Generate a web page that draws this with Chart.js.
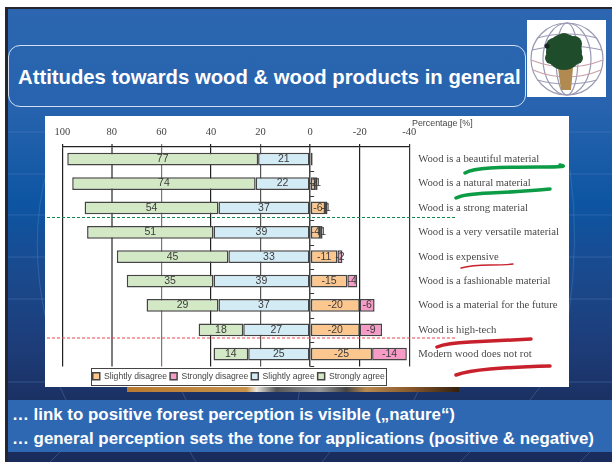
<!DOCTYPE html>
<html>
<head>
<meta charset="utf-8">
<script src="https://cdn.jsdelivr.net/npm/chart.js@4"></script>
<style>
  html, body { margin: 0; padding: 0; background: #fff; }
  #slide { position: absolute; left: 5px; top: 7px; width: 607px; height: 455px; overflow: hidden;
    border-left: 3px solid #23262e; border-top: 2px solid #23262e; box-sizing: border-box;
    background: linear-gradient(180deg, #2c66b1 0%, #2763ae 22%, #0d55a2 43%, #1a4a8e 58%, #1d3c78 75%, #1a2f60 88%, #1a2c5c 100%); }
  #panel { position: absolute; left: 45px; top: 116px; width: 524px; height: 271px; background: #fff; }
  #panel canvas { display: block; }
  #titlebox { position: absolute; left: 8px; top: 45px; width: 518px; height: 62px; box-sizing: border-box;
    border: 1.5px solid #d4e0f2; border-radius: 12px; }
  .txt { position: absolute; font-family: "Liberation Sans", Arial, sans-serif; white-space: nowrap; }
  #title { left: 18px; top: 64px; color: #fff; font-weight: bold; font-size: 20.3px; line-height: 26px; }
  #pct { left: 412px; top: 118px; color: #444; font-size: 8.9px; line-height: 10px; }
  #band { position: absolute; left: 8px; top: 400px; width: 604px; height: 52px; background: #2e68b3; }
  .note { left: 12px; color: #fff; font-weight: bold; font-size: 16.9px; line-height: 20px; }
  #strip { position: absolute; left: 127px; top: 387px; width: 332px; height: 5px;
    background: linear-gradient(90deg, #b87a30 0%, #c8924a 36%, #e8e4dc 39%, #555 45%, #999 58%, #444 66%, #b98a50 72%, #8a5a2c 85%, #33200f 100%); }
  svg.over { position: absolute; left: 0; top: 0; pointer-events: none; }
</style>
</head>
<body>
<div id="slide"></div>
<svg class="over" width="612" height="462" style="left:0;top:0">
  <g stroke="#5f8ccb" stroke-opacity="0.35" fill="none" stroke-width="1">
    <path d="M8 132H612M8 174H612M8 215H612M8 257H612M8 299H612M8 382H612"/>
    <path d="M47 170Q28 240 46 320M570 170Q580 240 568 320"/>
    <path d="M60 387L66 400M180 387L186 400M300 387L298 400M420 387L414 400M540 387L530 400M60 452L50 462M190 452L196 462M330 452L322 462M470 452L460 462M590 452L580 462"/>
  </g>
</svg>
<div id="titlebox"></div>
<div id="title" class="txt">Attitudes towards wood &amp; wood products in general</div>
<svg class="over" width="612" height="462">
  <rect x="527" y="20" width="79" height="77" fill="#fff"/>
  <g fill="none" stroke="#9a9ab4" stroke-width="1.2">
    <circle cx="567" cy="59" r="36"/>
    <ellipse cx="567" cy="59" rx="24" ry="36"/>
    <ellipse cx="567" cy="59" rx="11" ry="36"/>
    <path d="M537 38Q567 30 597 38M532 50Q567 42 602 50M537 80Q567 88 597 80"/>
    <path d="M531 60Q567 74 603 60M533 70Q567 84 601 70" stroke="#c9a0a8"/>
  </g>
  <path d="M558 68H573L571 90H561Z" fill="#b08a50"/>
  <g fill="#1f4d2c">
    <circle cx="564" cy="52" r="18"/>
    <circle cx="554" cy="46" r="8"/>
    <circle cx="574" cy="44" r="8"/>
    <circle cx="564" cy="40" r="7"/>
    <circle cx="577" cy="58" r="6"/>
    <circle cx="551" cy="58" r="6"/>
  </g>
  <circle cx="547" cy="46" r="2.5" fill="#15261c"/>
</svg>
<div id="panel"><canvas id="chart" width="524" height="271"></canvas></div>
<div id="pct" class="txt">Percentage [%]</div>
<div id="strip"></div>
<div id="band"></div>
<div class="txt note" style="top:405px">… link to positive forest perception is visible („nature“)</div>
<div class="txt note" style="top:429px">… general perception sets the tone for applications (positive &amp; negative)</div>
<svg class="over" width="612" height="462">
  <path d="M47 217.5H456" stroke="#0f8a4c" stroke-width="1" stroke-dasharray="3 2" fill="none"/>
  <path d="M47 338H456" stroke="#e8434f" stroke-width="1" stroke-dasharray="3 2" fill="none"/>
  <g fill="none" stroke-linecap="round">
    <path d="M465 173Q472 169 490 168T540 167T560 165" stroke="#0c9c46" stroke-width="3.5"/>
    <path d="M456 198Q464 194 490 193T550 189" stroke="#0c9c46" stroke-width="3.5"/>
    <path d="M461 268Q472 265 490 265T513 264" stroke="#c8202c" stroke-width="1.4"/>
    <path d="M437 347Q447 343 470 342T531 339" stroke="#c8202c" stroke-width="3.5"/>
    <path d="M456 375Q467 371 490 369T550 366" stroke="#c8202c" stroke-width="3.5"/>
  </g>
</svg>
<script>
const statements = [
  "Wood is a beautiful material",
  "Wood is a natural material",
  "Wood is a strong material",
  "Wood is a very versatile material",
  "Wood is expensive",
  "Wood is a fashionable material",
  "Wood is a material for the future",
  "Wood is high-tech",
  "Modern wood does not rot",
];
const slightlyDisagree = [-1, -2, -6, -4, -11, -15, -20, -20, -25];
const stronglyDisagree = [null, -1, -1, -1, -2, -4, -6, -9, -14];
const slightlyAgree = [21, 22, 37, 39, 33, 39, 37, 27, 25];
const stronglyAgree = [77, 74, 54, 51, 45, 35, 29, 18, 14];

const gridStyles = {
  100: ["#222", 1.2], 80: ["#7c7c7c", 2], 60: ["#777", 1.2], 40: ["#222", 1.2],
  20: ["#555", 1.2], 0: ["#444", 1.5], "-20": ["#222", 1.2], "-40": ["#333", 1.2],
};

const makeSet = (label, data, color) => ({
  label, data,
  backgroundColor: color,
  borderColor: "#444",
  borderWidth: 1.5,
  borderSkipped: false,
  barPercentage: 0.52,
  categoryPercentage: 1,
});

// value labels in the middle of each segment
const barLabels = {
  id: "barLabels",
  afterDatasetsDraw(chart) {
    const ctx = chart.ctx;
    ctx.save();
    ctx.font = '10.5px "Liberation Sans", Arial, sans-serif';
    ctx.fillStyle = "#3c3c3c";
    ctx.textAlign = "center";
    ctx.textBaseline = "middle";
    chart.data.datasets.forEach((ds, i) => {
      chart.getDatasetMeta(i).data.forEach((bar, j) => {
        const v = ds.data[j];
        if (v == null) return;
        if (j === 0 && v === -1) return; // too small, no label in the original
        ctx.fillText(String(v), (bar.x + bar.base) / 2, bar.y);
      });
    });
    ctx.restore();
  },
};

// short ticks on the zero line and frame around the legend
const extras = {
  id: "extras",
  afterLayout(chart) {
    chart.legend.left += 3;
    chart.legend.right += 3;
    chart.legend.top += 2.5;
    chart.legend.bottom += 2.5;
  },
  afterDraw(chart) {
    const ctx = chart.ctx;
    const x0 = chart.scales.x.getPixelForValue(0);
    const y = chart.scales.y;
    const step = y.getPixelForValue(1) - y.getPixelForValue(0);
    ctx.save();
    ctx.strokeStyle = "#333";
    ctx.lineWidth = 1;
    for (let i = 0; i < statements.length; i++) {
      const py = Math.round(y.getPixelForValue(i) + step / 2) + 0.5;
      ctx.beginPath();
      ctx.moveTo(x0, py);
      ctx.lineTo(x0 + 4, py);
      ctx.stroke();
    }
    ctx.strokeStyle = "#444";
    ctx.strokeRect(46.5, 252.5, 295, 17);
    ctx.restore();
  },
};

new Chart(document.getElementById("chart"), {
  type: "bar",
  data: {
    labels: statements,
    datasets: [
      makeSet("Slightly disagree", slightlyDisagree, "#fcc78f"),
      makeSet("Strongly disagree", stronglyDisagree, "#f69ac6"),
      makeSet("Slightly agree", slightlyAgree, "#d2ebf5"),
      makeSet("Strongly agree", stronglyAgree, "#d3e8c4"),
    ],
  },
  plugins: [barLabels, extras],
  options: {
    indexAxis: "y",
    responsive: false,
    animation: false,
    layout: { padding: { left: 17.3, top: 0, bottom: -1 } },
    plugins: {
      tooltip: { enabled: false },
      legend: {
        position: "bottom",
        fullSize: false,
        labels: {
          boxWidth: 7,
          boxHeight: 7,
          padding: 3,
          color: "#444",
          font: { family: '"Liberation Sans", Arial, sans-serif', size: 8.6 },
        },
      },
    },
    scales: {
      x: {
        position: "top",
        reverse: true,
        stacked: true,
        min: -40,
        max: 100,
        afterFit(s) { s.height = 31; },
        border: { display: true, color: "#222", width: 1.2 },
        grid: {
          color: (c) => (gridStyles[c.tick.value] || ["#555"])[0],
          lineWidth: (c) => (gridStyles[c.tick.value] || ["", 1])[1],
          tickLength: 3,
        },
        ticks: {
          stepSize: 20,
          padding: 5,
          maxRotation: 0,
          color: "#444",
          font: { family: '"Liberation Serif", "Times New Roman", serif', size: 10.5 },
        },
      },
      y: {
        position: "right",
        stacked: true,
        afterFit(s) { s.width = 159.7; },
        border: { display: false },
        grid: { display: false, drawTicks: false },
        ticks: {
          padding: 9,
          autoSkip: false,
          color: "#4a4a4a",
          font: { family: '"Liberation Serif", "Times New Roman", serif', size: 10.7 },
        },
      },
    },
  },
});
</script>
</body>
</html>
